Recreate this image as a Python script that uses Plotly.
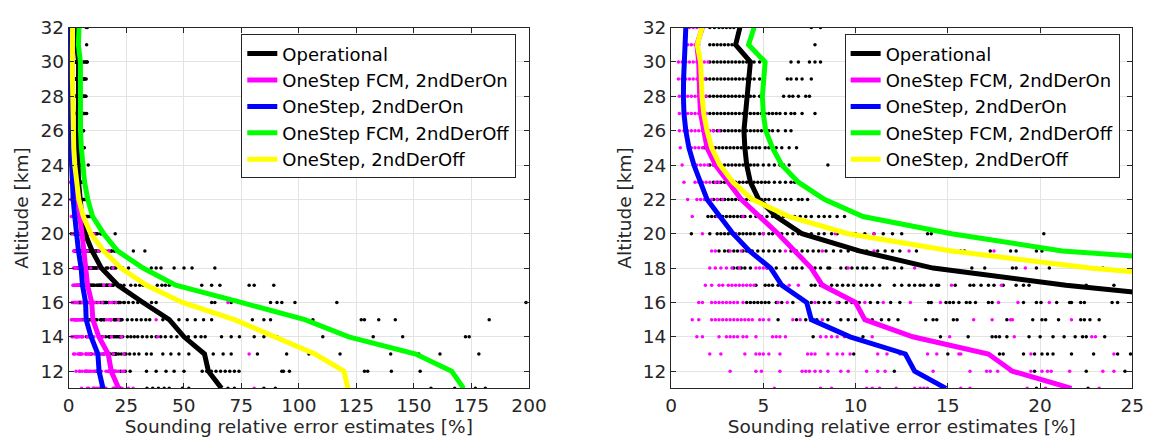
import plotly.graph_objects as go

# ---------------- data ----------------
altitude = [32, 31, 30, 29, 28, 27, 26, 25, 24, 23, 22, 21, 20, 19, 18, 17, 16, 15, 14, 13, 12, 11]

operational = [3.73, 3.5, 4.3, 4.2, 4.1, 4.0, 3.95, 4.0, 4.1, 4.3, 4.75, 5.7, 7.1, 10.2, 14.2, 21.4,
               32.3, 43.7, 50.1, 59.0, 60.7, 66.4]
fcm_2nd_on = [1.7, 1.4, 1.5, 1.5, 1.55, 1.6, 1.75, 1.95, 2.4, 3.1, 3.8, 4.8, 5.8, 6.7, 7.6, 8.2,
              10.0, 10.5, 13.1, 17.2, 18.5, 21.7]
onestep_2nd_on = [0.8, 0.74, 0.7, 0.68, 0.67, 0.7, 0.8, 0.97, 1.24, 1.6, 1.95, 2.65, 3.36, 4.25, 5.4, 6.0,
                  7.35, 7.6, 9.7, 12.7, 13.2, 14.9]
fcm_2nd_off = [4.5, 4.2, 5.1, 5.0, 4.95, 5.0, 5.13, 5.5, 6.0, 6.9, 8.3, 10.4, 15.2, 21.2, 32.3, 46.5,
               74.9, 102.6, 121.7, 150.8, 166.4, 171.6]
onestep_2nd_off = [1.68, 1.42, 1.6, 1.63, 1.68, 1.77, 1.95, 2.2, 2.65, 3.36, 4.4, 6.4, 9.6, 15.2, 22.7, 33.8,
                   49.4, 72.0, 89.0, 107.0, 119.6, 121.3]

series_names = ["Operational", "OneStep FCM, 2ndDerOn", "OneStep, 2ndDerOn",
                "OneStep FCM, 2ndDerOff", "OneStep, 2ndDerOff"]

# individual sounding estimates, one list per altitude (same order as `altitude`)
operational_dots = [
    [2.1, 2.35, 2.6, 2.8, 3.0, 3.2, 3.4, 7.6, 8.1],
    [2.1, 2.3, 2.5, 2.7, 2.9, 3.1, 3.3, 7.8],
    [2.1, 2.3, 2.5, 2.7, 2.9, 3.1, 3.3, 3.5, 3.7, 3.9, 4.1, 4.3, 4.5, 4.8, 6.5, 6.9, 7.5, 7.8, 8.1],
    [1.9, 2.1, 2.3, 2.5, 2.7, 2.9, 3.1, 3.3, 3.5, 3.7, 3.9, 4.1, 4.3, 4.5, 4.8, 6.3, 6.5, 6.8, 7.1, 7.6],
    [1.9, 2.1, 2.3, 2.5, 2.7, 2.9, 3.1, 3.3, 3.5, 3.7, 3.9, 4.1, 4.3, 4.5, 4.8, 6.1, 6.4, 6.6, 6.9, 7.3, 7.5],
    [1.9, 2.1, 2.3, 2.5, 2.7, 2.9, 3.1, 3.3, 3.5, 3.7, 3.9, 4.1, 4.3, 4.5, 4.7, 4.9, 5.1, 5.3, 5.5, 5.7,
     5.9, 6.2, 6.5, 6.7, 7.1, 7.8],
    [2.3, 2.5, 2.7, 2.9, 3.1, 3.3, 3.5, 3.7, 3.9, 4.1, 4.3, 4.5, 4.7, 4.9, 5.1, 5.3, 5.5, 5.8, 6.2, 6.5],
    [1.8, 2.4, 2.6, 2.8, 3.0, 3.2, 3.4, 3.6, 3.8, 4.0, 4.2, 4.4, 4.6, 4.8, 5.1, 5.3, 5.7, 6.0, 6.4, 6.8],
    [2.1, 2.3, 2.5, 2.7, 2.9, 3.1, 3.3, 3.5, 3.7, 3.9, 4.1, 4.3, 4.5, 4.7, 5.0, 5.3, 5.6, 5.9, 6.1, 6.4, 8.5],
    [2.3, 2.5, 2.7, 2.9, 3.1, 3.3, 3.5, 3.7, 3.9, 4.1, 4.3, 4.5, 4.7, 4.9, 5.1, 5.3, 5.6, 5.9, 6.2, 6.5,
     6.7, 6.9],
    [2.3, 2.5, 2.7, 2.9, 3.1, 3.3, 3.5, 3.7, 3.9, 4.1, 4.3, 4.5, 4.7, 4.9, 5.1, 5.3, 5.6, 5.9, 6.2, 6.5,
     6.9, 7.1, 7.4],
    [2.0, 2.2, 2.4, 2.6, 2.8, 3.0, 3.2, 3.4, 3.6, 3.8, 4.0, 4.3, 4.6, 4.9, 5.2, 5.5, 5.8, 6.1, 6.4, 6.7,
     7.0, 7.3, 7.6, 8.0, 8.3, 8.6, 9.0, 9.4],
    [1.1, 2.1, 2.5, 2.7, 2.9, 3.1, 3.3, 3.5, 3.7, 3.9, 4.1, 4.3, 4.5, 4.8, 5.0, 5.3, 5.5, 5.8, 6.0, 6.3,
     6.6, 6.9, 7.2, 7.6, 8.0, 8.3, 8.7, 9.0, 9.5, 10.0, 10.5, 11.0, 11.5, 12.0, 12.5, 13.9, 14.1, 20.2],
    [2.6, 2.9, 3.1, 3.4, 3.6, 3.9, 4.1, 4.4, 4.7, 5.0, 5.3, 5.6, 5.9, 6.5, 6.8, 7.1, 7.4, 7.7, 8.0, 8.4,
     8.8, 9.2, 9.6, 10.1, 10.6, 11.2, 11.6, 12.0, 12.4, 13.3, 15.7, 15.9, 17.3, 18.4, 18.7, 19.8, 20.1,
     28.1, 33.1],
    [3.4, 3.6, 3.8, 4.0, 4.3, 5.2, 5.7, 6.2, 6.6, 6.8, 7.1, 7.8, 8.1, 8.5, 8.6, 9.2, 9.5, 9.8, 10.1, 10.4,
     10.6, 11.0, 11.5, 11.7, 12.1, 12.5, 16.3, 17.0, 18.5, 18.7, 19.8, 20.5, 23.4, 26.0, 35.9, 38.0, 40.1,
     45.8, 50.1, 53.6, 63.5],
    [4.6, 5.1, 5.3, 5.5, 5.8, 7.6, 7.8, 8.1, 8.3, 8.7, 9.0, 9.3, 9.6, 9.9, 10.3, 10.6, 10.9, 11.3, 12.1,
     12.5, 12.9, 13.2, 13.5, 13.7, 14.1, 14.4, 14.5, 15.4, 16.2, 16.4, 16.8, 17.2, 17.5, 18.0, 18.7, 19.1,
     19.4, 22.5, 24.0, 27.0, 29.0, 30.9, 32.3, 38.5, 40.5, 42.0, 43.7, 57.8, 62.1, 65.7, 78.4, 80.6, 89.1],
    [4.1, 4.3, 4.5, 4.7, 4.9, 5.1, 5.3, 5.7, 6.0, 6.6, 7.3, 7.6, 8.0, 8.3, 8.6, 9.1, 9.5, 9.8, 10.2, 10.8,
     11.2, 11.9, 12.4, 13.95, 14.1, 14.9, 15.1, 15.3, 15.6, 16.0, 16.2, 16.5, 17.2, 17.4, 19.1, 19.8, 20.05,
     20.9, 21.6, 21.7, 22.2, 22.4, 23.9, 24.2, 26.0, 28.0, 30.0, 33.0, 36.0, 38.0, 62.1, 63.5, 70.6, 87.7,
     90.5, 92.6, 98.3, 116.5, 198.7],
    [5.8, 6.8, 7.3, 7.9, 8.5, 9.2, 9.6, 10.0, 10.5, 10.9, 11.4, 11.8, 12.3, 13.8, 14.2, 14.4, 15.3, 15.5,
     18.2, 19.6, 20.1, 20.3, 21.0, 22.2, 22.4, 22.7, 23.2, 25.5, 27.5, 29.5, 31.5, 33.5, 35.2, 40.9, 43.7,
     47.9, 51.5, 55.0, 58.6, 62.1, 79.8, 84.8, 87.7, 106.1, 127.1, 128.5, 134.7, 141.9, 182.7],
    [7.7, 10.4, 14.6, 16.1, 17.4, 17.6, 17.8, 18.2, 19.4, 20.0, 20.7, 21.3, 21.9, 22.3, 22.5, 23.5, 25.5,
     27.0, 28.5, 30.0, 32.0, 34.0, 36.0, 38.0, 40.0, 42.0, 44.5, 47.0, 52.0, 55.0, 57.5, 59.3, 66.4, 70.6,
     74.2, 80.6, 84.8, 90.5, 110.4, 132.3, 145.1, 172.4, 174.0],
    [9.9, 15.0, 17.8, 18.0, 19.1, 19.7, 20.1, 20.4, 20.7, 21.7, 22.9, 24.2, 24.9, 26.5, 28.5, 30.5, 33.8,
     35.9, 40.9, 44.4, 47.9, 52.2, 62.8, 67.1, 70.6, 82.0, 94.7, 104.4, 117.9, 139.9, 152.1, 161.3, 178.2],
    [12.1, 19.7, 22.5, 24.6, 26.7, 33.8, 38.0, 42.3, 45.8, 50.1, 58.0, 60.0, 62.0, 64.0, 66.0, 68.0, 70.0,
     72.0, 74.0, 92.6, 93.3, 95.9, 128.5, 129.9, 140.2, 152.7],
    [19.8, 22.6, 34.0, 36.5, 39.0, 41.5, 43.7, 49.4, 52.2, 69.2, 72.0, 84.8, 89.8, 157.4, 167.7, 176.7, 181.0],
]

fcm_on_dots = [
    [1.0, 1.2, 1.4, 1.6],
    [0.9, 1.1, 1.3, 1.5],
    [0.4, 0.6, 0.8, 1.0, 1.2, 1.4, 1.6, 1.8, 2.0],
    [0.4, 0.6, 0.8, 1.0, 1.2, 1.4, 1.6, 1.8],
    [0.45, 0.7, 0.9, 1.1, 1.3, 1.5, 1.7, 1.9],
    [0.45, 0.7, 0.9, 1.1, 1.3, 1.5, 1.7, 1.9],
    [0.45, 0.7, 0.9, 1.1, 1.3, 1.5, 1.7, 1.9, 2.1, 2.3, 2.6],
    [0.5, 1.1, 1.3, 1.5, 1.7, 1.9, 2.1, 2.3],
    [0.6, 1.2, 1.4, 1.6, 1.8, 2.0, 2.3],
    [0.7, 1.3, 1.5, 1.7, 1.9, 2.1, 2.4, 2.6],
    [0.9, 1.4, 1.6, 1.8, 2.0, 2.2, 2.5, 2.8],
    [1.15, 2.5, 3.9],
    [1.7, 3.5, 5.0, 8.9, 11.0],
    [2.2, 2.4, 3.2, 3.8, 6.2, 8.2, 11.0, 12.9, 17.5],
    [2.1, 2.4, 2.7, 3.0, 3.3, 3.7, 4.6, 4.8, 5.0, 5.2, 9.6, 13.2, 19.2],
    [1.86, 2.2, 2.6, 2.8, 3.1, 3.3, 3.5, 3.7, 3.9, 4.1, 4.3, 4.5, 6.1, 6.4, 6.9, 15.2, 17.9],
    [1.5, 1.7, 2.2, 2.4, 2.6, 2.8, 3.0, 3.2, 3.4, 3.6, 3.9, 5.8, 6.3, 7.8, 9.0, 10.5, 11.5, 12.97, 14.6,
     17.75, 18.8, 20.5, 69.2],
    [1.15, 1.5, 2.2, 2.4, 2.6, 2.8, 3.0, 3.2, 3.4, 3.6, 3.8, 4.0, 4.2, 4.4, 4.8, 5.0, 5.3, 6.6, 7.0, 7.6,
     8.2, 16.4, 17.4, 18.4, 18.5, 21.7, 38.0],
    [1.4, 1.7, 2.6, 3.0, 3.2, 3.4, 3.6, 3.9, 4.1, 4.6, 5.5, 5.7, 5.9, 6.2, 8.1, 8.4, 8.7, 9.0, 9.4, 10.9,
     15.1, 18.6, 22.8, 23.0, 38.7],
    [2.1, 2.7, 4.0, 4.6, 4.8, 5.0, 5.3, 5.9, 7.4, 7.6, 7.8, 8.5, 9.0, 9.3, 9.7, 11.2, 11.7, 12.4, 13.9,
     14.4, 15.6, 15.7, 19.5, 24.0, 78.4],
    [3.2, 4.6, 4.9, 5.9, 7.1, 7.3, 7.5, 7.8, 8.1, 8.5, 9.2, 9.6, 10.6, 11.2, 11.6, 14.2, 16.2, 17.1, 17.3,
     17.7, 18.4, 19.5, 20.1, 20.4, 20.6, 21.6, 23.4, 24.0],
    [5.6, 8.1, 8.7, 10.6, 10.9, 11.3, 12.2, 13.2, 13.5, 13.7, 13.9, 15.7, 16.2, 19.3, 20.3, 21.4, 23.2,
     26.0, 28.0, 80.6],
]

# ---------------- styling ----------------
FONT = "DejaVu Sans"
AXC = "#262626"
line_colors = ["#000000", "#ff00ff", "#0000ff", "#00ff00", "#ffff00"]
line_series = [operational, fcm_2nd_on, onestep_2nd_on, fcm_2nd_off, onestep_2nd_off]

fig = go.Figure()


def flatten(dots):
    xs, ys = [], []
    for alt, vals in zip(altitude, dots):
        for v in vals:
            xs.append(v)
            ys.append(alt)
    return xs, ys


panels = [("x", "y", "legend"), ("x2", "y2", "legend2")]
for xa, ya, lg in panels:
    for dots, col in [(operational_dots, "#000000"), (fcm_on_dots, "#ff00ff")]:
        dx, dy = flatten(dots)
        fig.add_trace(go.Scatter(x=dx, y=dy, mode="markers", xaxis=xa, yaxis=ya,
                                 marker=dict(color=col, size=3.5, line=dict(width=0)),
                                 showlegend=False, hoverinfo="skip"))
    for name, vals, col in zip(series_names, line_series, line_colors):
        fig.add_trace(go.Scatter(x=vals, y=altitude, mode="lines", name=name, xaxis=xa, yaxis=ya,
                                 line=dict(color=col, width=5), legend=lg, showlegend=True))

W, H = 1168, 441
FS = 18.5
axis_common = dict(showline=True, linecolor=AXC, linewidth=1, mirror="allticks", ticks="inside",
                   ticklen=5, tickcolor=AXC, showgrid=True, gridcolor="#e3e3e3", gridwidth=1,
                   zeroline=False, tickfont=dict(family=FONT, size=FS, color=AXC))

xtitle = dict(text="Sounding relative error estimates [%]", font=dict(family=FONT, size=FS, color=AXC),
              standoff=4)
ytitle = dict(text="Altitude [km]", font=dict(family=FONT, size=FS, color=AXC), standoff=6)

ydom = [(H - 387) / H, (H - 17) / H]

legend_common = dict(bgcolor="white", bordercolor=AXC, borderwidth=1,
                     font=dict(family=FONT, size=18, color="#000000"),
                     xanchor="right", yanchor="top", y=(H - 24) / H,
                     tracegroupgap=0, itemwidth=30)

fig.update_layout(
    width=W, height=H,
    margin=dict(l=0, r=0, t=0, b=0),
    paper_bgcolor="white", plot_bgcolor="white",
    font=dict(family=FONT, size=FS, color=AXC),
    xaxis=dict(domain=[64 / W, 534 / W], range=[0, 200], tick0=0, dtick=25, anchor="y",
               title=xtitle, **axis_common),
    yaxis=dict(domain=ydom, range=[11, 32], tick0=12, dtick=2, anchor="x", title=ytitle, **axis_common),
    xaxis2=dict(domain=[679 / W, 1150 / W], range=[0, 25], tick0=0, dtick=5, anchor="y2",
                title=xtitle, **axis_common),
    yaxis2=dict(domain=ydom, range=[11, 32], tick0=12, dtick=2, anchor="x2", title=ytitle, **axis_common),
    legend=dict(x=521 / W, **legend_common),
    legend2=dict(x=1137 / W, **legend_common),
    showlegend=True,
)

fig.write_html("out.html")
